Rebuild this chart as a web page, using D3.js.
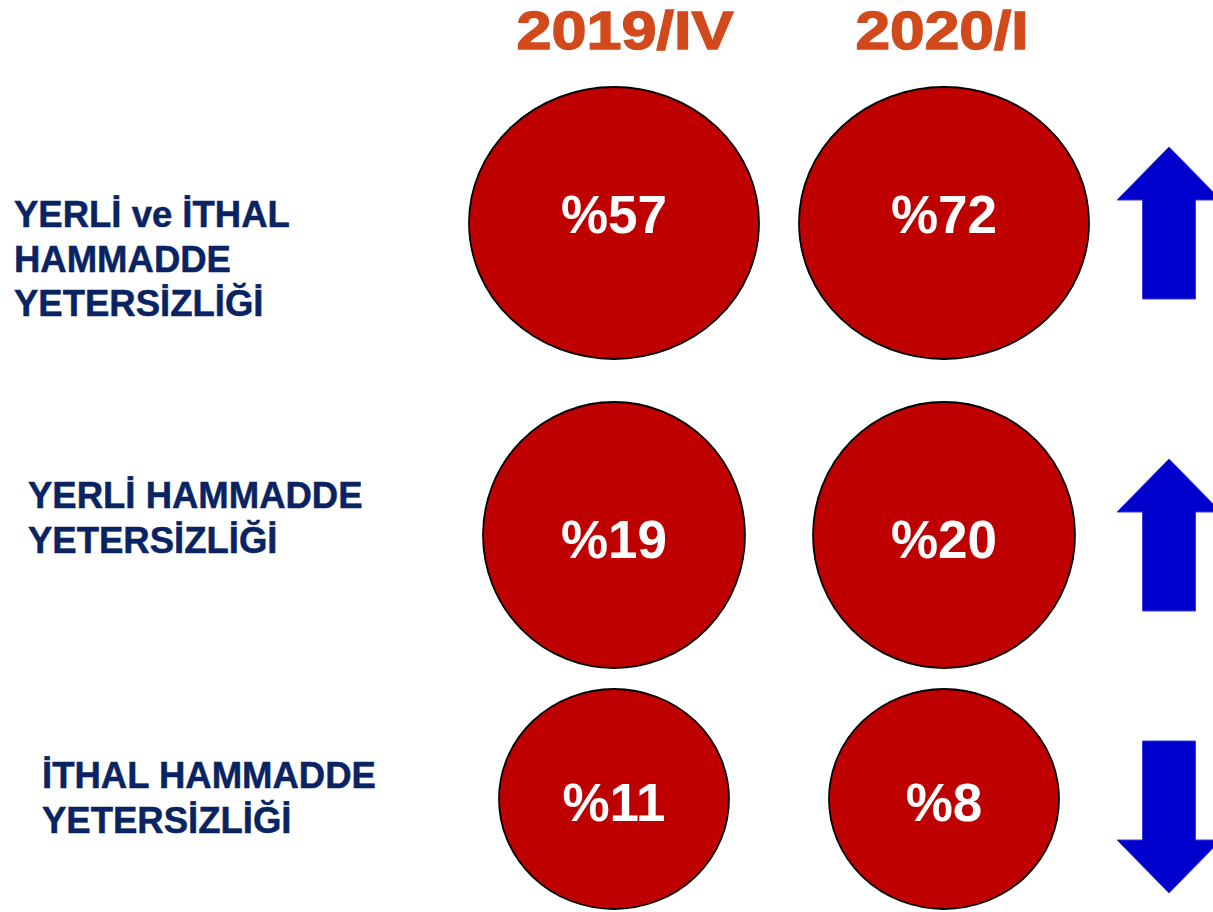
<!DOCTYPE html>
<html>
<head>
<meta charset="utf-8">
<script src="https://cdn.jsdelivr.net/npm/d3@7"></script>
<style>
  body { margin: 0; background: #fff; }
  svg { display: block; }
</style>
</head>
<body>
<div id="chart"></div>
<script>
let width = 1213
let height = 912

// data
let periods = ["2019/IV", "2020/I"]
let categories = ["YERLİ ve İTHAL HAMMADDE YETERSİZLİĞİ", "YERLİ HAMMADDE YETERSİZLİĞİ", "İTHAL HAMMADDE YETERSİZLİĞİ"]
let labelLines = [
    ["YERLİ ve İTHAL", "HAMMADDE", "YETERSİZLİĞİ"],
    ["YERLİ HAMMADDE", "YETERSİZLİĞİ"],
    ["İTHAL HAMMADDE", "YETERSİZLİĞİ"]
]
let values2019IV = [57, 19, 11]
let values2020I = [72, 20, 8]

// layout
let rowY = d3.scaleOrdinal().domain(categories).range([223, 535, 799])
let textY = d3.scaleOrdinal().domain(categories).range([214, 539, 802])
let arrowY = d3.scaleOrdinal().domain(categories).range([223, 535, 817])
let rx = d3.scaleOrdinal().domain(categories).range([145, 131, 115])
let ry = d3.scaleOrdinal().domain(categories).range([136, 133, 110])
let labelX = d3.scaleOrdinal().domain(categories).range([14, 28, 42])
let labelTop = d3.scaleOrdinal().domain(categories).range([227, 508, 788])
let colX = d3.scaleOrdinal().domain(periods).range([614, 944])
let headX = d3.scaleOrdinal().domain(periods).range([625, 942])
let headW = d3.scaleOrdinal().domain(periods).range([217, 173])

let svg = d3.select("#chart")
    .append("svg")
    .attr("width", width)
    .attr("height", height)

let font = "'Liberation Sans', Arial, sans-serif"

// column headers
svg.selectAll(".head")
    .data(periods)
    .enter()
    .append("text")
    .attr("class", "head")
    .attr("x", d => headX(d) - headW(d) / 2)
    .attr("y", 49)
    .attr("textLength", d => headW(d))
    .attr("lengthAdjust", "spacingAndGlyphs")
    .style("font-family", font)
    .style("font-weight", "bold")
    .style("font-size", "54px")
    .attr("fill", "#d24a1c")
    .attr("stroke", "#d24a1c")
    .attr("stroke-width", 1.4)
    .text(d => d)

// row labels
categories.forEach((c, i) => {
    svg.append("text")
        .attr("x", labelX(c))
        .attr("y", labelTop(c))
        .style("font-family", font)
        .style("font-weight", "bold")
        .style("font-size", "36.5px")
        .attr("fill", "#0a2362")
        .attr("stroke", "#0a2362")
        .attr("stroke-width", 0.5)
        .selectAll("tspan")
        .data(labelLines[i])
        .enter()
        .append("tspan")
        .attr("x", labelX(c))
        .attr("dy", (d, j) => j === 0 ? 0 : 44.5)
        .text(d => d)
})

// bubbles
let cells = []
categories.forEach((c, i) => {
    cells.push({cat: c, period: periods[0], value: values2019IV[i]})
    cells.push({cat: c, period: periods[1], value: values2020I[i]})
})

svg.selectAll("ellipse")
    .data(cells)
    .enter()
    .append("ellipse")
    .attr("cx", d => colX(d.period))
    .attr("cy", d => rowY(d.cat))
    .attr("rx", d => rx(d.cat))
    .attr("ry", d => ry(d.cat))
    .attr("fill", "#be0000")
    .attr("stroke", "#000")
    .attr("stroke-width", 1.8)

svg.selectAll(".val")
    .data(cells)
    .enter()
    .append("text")
    .attr("class", "val")
    .attr("x", d => colX(d.period))
    .attr("y", d => textY(d.cat))
    .attr("dy", "0.36em")
    .attr("text-anchor", "middle")
    .style("font-family", font)
    .style("font-weight", "bold")
    .style("font-size", "53px")
    .attr("fill", "#fff")
    .text(d => "%" + d.value)

// trend arrows
let arrowLen = 152, headLen = 53, headHalf = 52, shaftHalf = 26.5
function arrowPath() {
    let p = d3.path()
    let t = -arrowLen / 2, b = arrowLen / 2
    p.moveTo(0, t)
    p.lineTo(headHalf, t + headLen)
    p.lineTo(shaftHalf, t + headLen)
    p.lineTo(shaftHalf, b)
    p.lineTo(-shaftHalf, b)
    p.lineTo(-shaftHalf, t + headLen)
    p.lineTo(-headHalf, t + headLen)
    p.closePath()
    return p.toString()
}

svg.selectAll(".arrow")
    .data(categories)
    .enter()
    .append("path")
    .attr("class", "arrow")
    .attr("d", arrowPath())
    .attr("transform", (c, i) => "translate(1169," + arrowY(c) + ")" + (values2020I[i] < values2019IV[i] ? " rotate(180)" : ""))
    .attr("fill", "#0000cc")
    .attr("stroke", "#3a3ae0")
    .attr("stroke-width", 1)
</script>
</body>
</html>
